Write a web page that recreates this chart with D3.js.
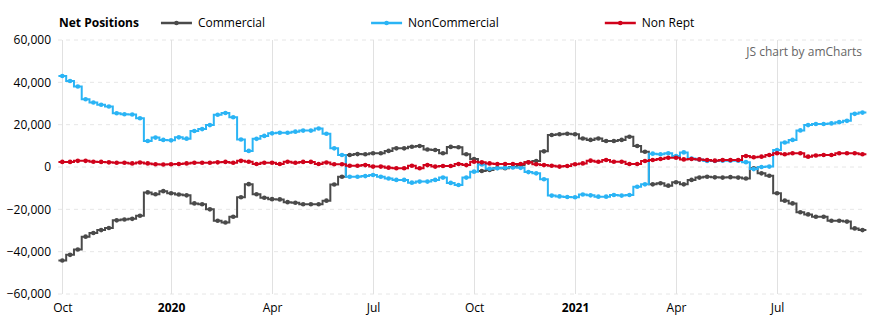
<!DOCTYPE html>
<html>
<head>
<meta charset="utf-8">
<script src="https://cdn.jsdelivr.net/npm/d3@7"></script>
<style>
  html, body { margin: 0; padding: 0; background: #fff; }
  svg { display: block; font-family: "Open Sans", sans-serif; font-size: 12px; }
</style>
</head>
<body>
<div id="chart"></div>
<script>
// Weekly net positions (COT report dates), step lines with bullets.

const DATES = [
  '2019-09-24', '2019-10-01', '2019-10-08', '2019-10-15', '2019-10-22', '2019-10-29', '2019-11-05', '2019-11-12',
  '2019-11-19', '2019-11-26', '2019-12-03', '2019-12-10', '2019-12-17', '2019-12-24', '2019-12-31', '2020-01-07',
  '2020-01-14', '2020-01-21', '2020-01-28', '2020-02-04', '2020-02-11', '2020-02-18', '2020-02-25', '2020-03-03',
  '2020-03-10', '2020-03-17', '2020-03-24', '2020-03-31', '2020-04-07', '2020-04-14', '2020-04-21', '2020-04-28',
  '2020-05-05', '2020-05-12', '2020-05-19', '2020-05-26', '2020-06-02', '2020-06-09', '2020-06-16', '2020-06-23',
  '2020-06-30', '2020-07-07', '2020-07-14', '2020-07-21', '2020-07-28', '2020-08-04', '2020-08-11', '2020-08-18',
  '2020-08-25', '2020-09-01', '2020-09-08', '2020-09-15', '2020-09-22', '2020-09-29', '2020-10-06', '2020-10-13',
  '2020-10-20', '2020-10-27', '2020-11-03', '2020-11-10', '2020-11-17', '2020-11-24', '2020-12-01', '2020-12-08',
  '2020-12-15', '2020-12-22', '2020-12-29', '2021-01-05', '2021-01-12', '2021-01-19', '2021-01-26', '2021-02-02',
  '2021-02-09', '2021-02-16', '2021-02-23', '2021-03-02', '2021-03-09', '2021-03-16', '2021-03-23', '2021-03-30',
  '2021-04-06', '2021-04-13', '2021-04-20', '2021-04-27', '2021-05-04', '2021-05-11', '2021-05-18', '2021-05-25',
  '2021-06-01', '2021-06-08', '2021-06-15', '2021-06-22', '2021-06-29', '2021-07-06', '2021-07-13', '2021-07-20',
  '2021-07-27', '2021-08-03', '2021-08-10', '2021-08-17', '2021-08-24', '2021-08-31', '2021-09-07', '2021-09-14',
];

const COMMERCIAL = [
  -44200, -41500, -39000, -32900, -31200, -29800, -28800, -25200, -24800, -24500, -23000, -12000, -12900, -11400,
  -12400, -13000, -13400, -17200, -17600, -20000, -25400, -26200, -23500, -14300, -8100, -12900, -14500, -15200,
  -15300, -16600, -16900, -17600, -17600, -17600, -15900, -8300, -4600, 5700, 6100, 6000, 6500, 6500,
  7600, 8800, 8800, 9600, 9900, 8300, 8000, 6500, 9500, 9300, 6000, 3800, -1900, -1400,
  -500, -600, 0, 800, 2200, 2800, 7400, 15100, 15500, 15700, 15500, 13500, 12800, 13500,
  12300, 12300, 12800, 14300, 9900, 7200, -8200, -7700, -8800, -7200, -8200, -6100, -5000, -4600,
  -4900, -5000, -4800, -5000, -5400, -600, -3000, -4100, -12400, -15900, -17200, -21400, -22400, -23500,
  -23500, -25400, -25400, -25800, -29000, -29800,
];

const NON_COMMERCIAL = [
  43000, 40600, 38000, 32000, 30500, 29400, 28600, 25400, 24900, 24800, 23000, 12300, 13900, 12800,
  12600, 14000, 13400, 17000, 17900, 19800, 24700, 25500, 23500, 13000, 7600, 13300, 14700, 15900,
  16200, 16200, 16700, 17200, 17200, 18200, 15700, 8800, 5700, -4600, -4600, -4300, -3800, -4600,
  -5400, -6100, -6100, -7400, -6900, -6900, -6100, -5000, -7500, -8500, -5000, -2200, 1200, -800,
  -600, -300, -200, -400, -2400, -3000, -5800, -13500, -13900, -14200, -14300, -13000, -13400, -14000,
  -14000, -13200, -13500, -13200, -9300, -8200, 6300, 6000, 6500, 5200, 6900, 4000, 3500, 2800,
  2800, 3000, 3000, 3000, 2300, -1000, 0, 200, 8000, 11600, 12800, 17300, 19800, 20300,
  20300, 20600, 21200, 21800, 25100, 25700,
];

const NON_REPT = [
  2400, 2400, 2900, 2900, 2500, 2400, 2200, 2000, 2000, 1700, 2100, 1700, 1300, 1200,
  1300, 1400, 1700, 2000, 2000, 2000, 2200, 2400, 2000, 2900, 2500, 1400, 2000, 2000,
  1400, 2500, 2000, 2400, 2400, 1400, 2100, 1300, 1300, 600, 600, 900, 200, 200,
  -300, -600, -600, 600, -600, 900, 200, 500, 500, 1400, 900, 2500, 2200, 1700,
  1400, 1400, 1400, 1400, 2200, 1300, 900, 600, 200, 500, 1300, 1700, 3000, 2500,
  3300, 2500, 2500, 1400, 1400, 2800, 3300, 3800, 4400, 4400, 3600, 3800, 3600, 3300,
  3000, 3300, 3300, 3300, 5200, 4600, 4900, 5700, 6500, 6000, 6500, 6500, 4900, 5400,
  5700, 5700, 6500, 6500, 6500, 6000,
];

// amCharts snaps its grid to the weekly cells; these are the weeks it used.
const TICK_DATES = ['2019-09-24', '2019-12-31', '2020-03-31', '2020-06-30', '2020-09-29', '2020-12-29', '2021-03-30', '2021-06-29'];
const TICK_LABELS = ['Oct', '2020', 'Apr', 'Jul', 'Oct', '2021', 'Apr', 'Jul'];
const Y_TICKS = [-60000, -40000, -20000, 0, 20000, 40000, 60000];

const SERIES = [
  { key: 'commercial', label: 'Commercial', values: COMMERCIAL, color: '#4a4a4a' },
  { key: 'noncommercial', label: 'NonCommercial', values: NON_COMMERCIAL, color: '#2ab4f5' },
  { key: 'nonrept', label: 'Non Rept', values: NON_REPT, color: '#d0021b' },
];

const WIDTH = 873;
const HEIGHT = 329;
const PLOT = { left: 58, right: 866, top: 40, bottom: 294 };

const parse = d3.utcParse('%Y-%m-%d');
const dates = DATES.map(parse);

const svg = d3.select('#chart').append('svg').attr('width', WIDTH).attr('height', HEIGHT);

const x = d3.scaleUtc().domain([dates[0], dates[dates.length - 1]]).range([62.3, 862.5]);
const y = d3.scaleLinear().domain([-60000, 60000]).range([PLOT.bottom, PLOT.top]);

// grid
svg.append('g')
  .selectAll('line')
  .data(Y_TICKS)
  .join('line')
  .attr('x1', PLOT.left)
  .attr('x2', PLOT.right)
  .attr('y1', (d) => y(d))
  .attr('y2', (d) => y(d))
  .attr('stroke', '#e6e6e6')
  .attr('stroke-dasharray', '4,4');

svg.append('g')
  .selectAll('line')
  .data(TICK_DATES.map(parse))
  .join('line')
  .attr('x1', (d) => Math.round(x(d)) + 0.5)
  .attr('x2', (d) => Math.round(x(d)) + 0.5)
  .attr('y1', PLOT.top)
  .attr('y2', PLOT.bottom)
  .attr('stroke', '#e1e1e1');

// axes (labels only, no domain/ticks)
const yAxis = svg.append('g')
  .attr('transform', `translate(${PLOT.left},0)`)
  .call(d3.axisLeft(y).tickValues(Y_TICKS).tickSize(0).tickPadding(7).tickFormat(d3.format(',')));
const xAxis = svg.append('g')
  .attr('transform', `translate(0,${PLOT.bottom})`)
  .call(d3.axisBottom(x).tickValues(TICK_DATES.map(parse)).tickSize(0).tickPadding(9)
    .tickFormat((d, i) => TICK_LABELS[i]));
[yAxis, xAxis].forEach((a) => {
  a.select('.domain').remove();
  a.selectAll('text').attr('fill', '#000').style('font-family', '"Open Sans", sans-serif').style('font-size', '12px');
});
xAxis.selectAll('text').attr('font-weight', (d, i) => (/^\d{4}$/.test(TICK_LABELS[i]) ? 'bold' : null));

// Step path: each weekly value holds for one cell centred on its date.
function stepPath(values) {
  const half = (x(dates[1]) - x(dates[0])) / 2;
  let d = '';
  values.forEach((v, i) => {
    const px = x(dates[i]);
    const py = y(v);
    d += i === 0 ? `M${px - half},${py}` : `V${py}`;
    d += `H${px + half}`;
  });
  return d;
}

SERIES.forEach((s) => {
  const g = svg.append('g').attr('class', `series-${s.key}`);
  g.append('path')
    .attr('d', stepPath(s.values))
    .attr('fill', 'none')
    .attr('stroke', s.color)
    .attr('stroke-width', 2);
  g.selectAll('circle')
    .data(s.values)
    .join('circle')
    .attr('cx', (d, i) => x(dates[i]))
    .attr('cy', (d) => y(d))
    .attr('r', 2.3)
    .attr('fill', s.color);
});

// legend across the top
const LEGEND_Y = 23;
const title = svg.append('text')
  .attr('x', 59)
  .attr('y', LEGEND_Y)
  .attr('dy', '0.35em')
  .attr('font-weight', 'bold')
  .attr('fill', '#000')
  .text('Net Positions');
let lx = 59 + title.node().getBBox().width + 22;

SERIES.forEach((s) => {
  const item = svg.append('g').attr('transform', `translate(${lx},${LEGEND_Y})`);
  item.append('line').attr('x1', 0).attr('x2', 31).attr('stroke', s.color).attr('stroke-width', 2.5);
  item.append('circle').attr('cx', 15.5).attr('r', 2.3).attr('fill', s.color);
  item.append('text').attr('x', 37).attr('dy', '0.35em').attr('fill', '#000').text(s.label);
  lx += item.node().getBBox().width + 106;
});

svg.append('text')
  .attr('x', 862)
  .attr('y', 52)
  .attr('dy', '0.35em')
  .attr('text-anchor', 'end')
  .attr('fill', '#666')
  .text('JS chart by amCharts');
</script>
</body>
</html>
